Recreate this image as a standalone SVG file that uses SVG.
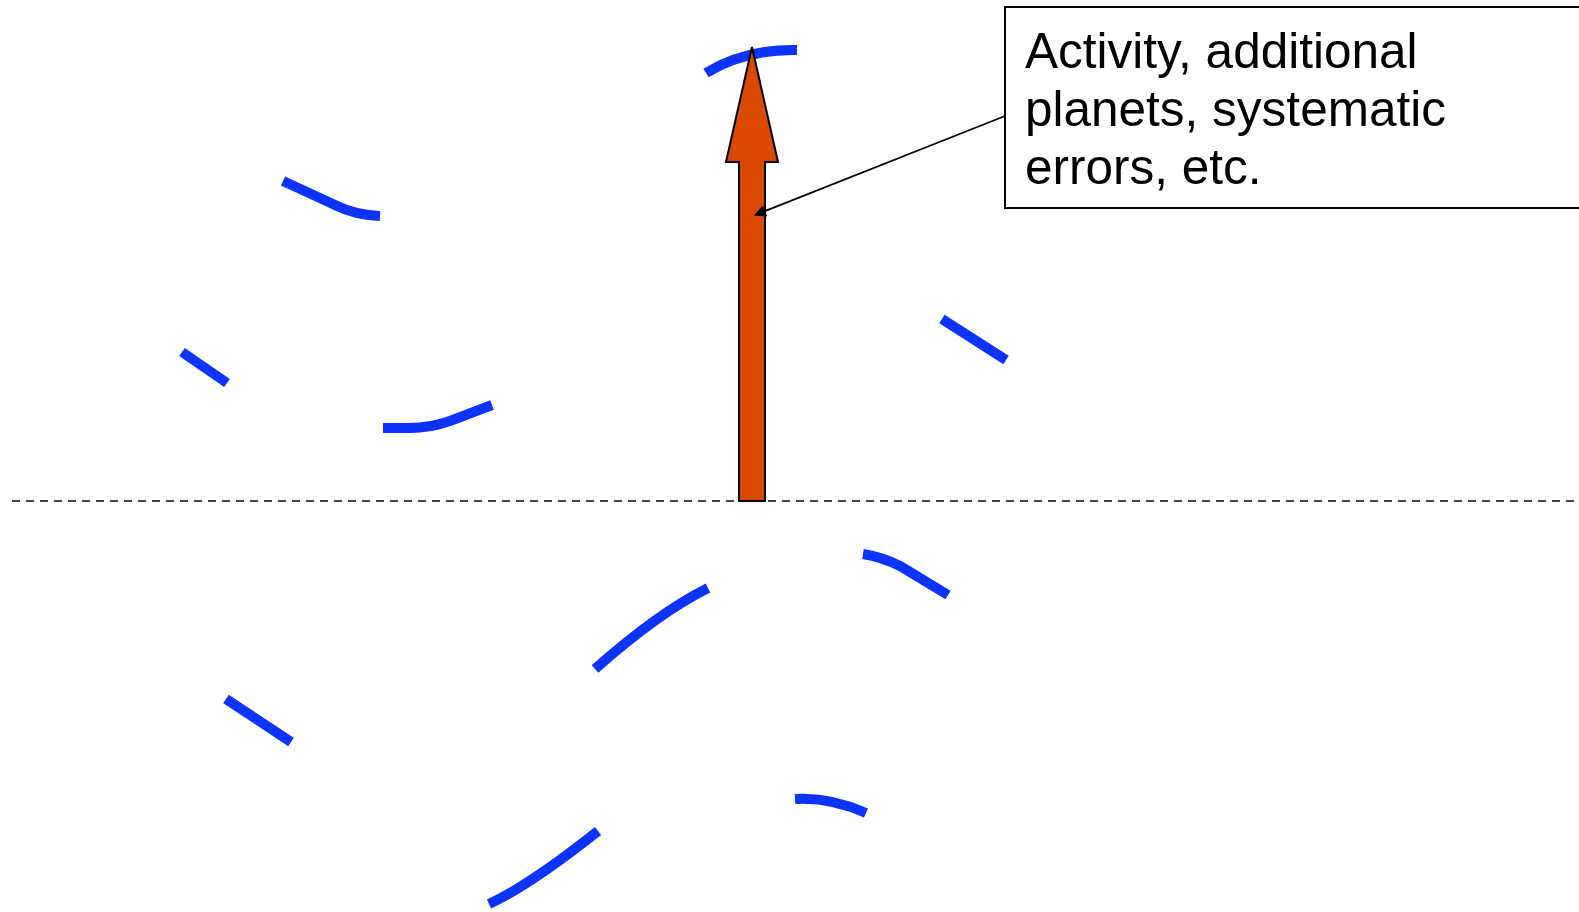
<svg xmlns="http://www.w3.org/2000/svg" width="1579" height="912" viewBox="0 0 1579 912">
<style>
.trace{fill:none;stroke:#0D33FF;stroke-width:10;stroke-linecap:butt}
.lbl{font-family:"Liberation Sans",Arial,sans-serif;font-size:49.5px;fill:#000}
</style>
<defs>
<marker id="ah" viewBox="0 0 10 10" refX="9" refY="5" markerWidth="16" markerHeight="12" markerUnits="userSpaceOnUse" orient="auto">
<path d="M0,0 L10,5 L0,10 z" fill="#000"/>
</marker>
</defs>
<rect width="1579" height="912" fill="#fff"/>
<g id="baseline">
<line x1="12" y1="501" x2="1579" y2="501" stroke="#000" stroke-width="1.5" stroke-dasharray="8 6"/>
</g>
<g id="traces">
<path class="trace" d="M283,181 L335,205 Q355,215 380,216"/>
<path class="trace" d="M182,352 L227,383"/>
<path class="trace" d="M383,428 L410,428 Q430,428 450,421 L492,405"/>
<path class="trace" d="M942,319 L1006,360"/>
<path class="trace" d="M706,73 Q745,49 797,50"/>
<path class="trace" d="M595,669 Q658,613 708,588"/>
<path class="trace" d="M863,554 Q882,557 900,566 L948,595"/>
<path class="trace" d="M226,699 L291,742"/>
<path class="trace" d="M489,904 Q530,885 598,831"/>
<path class="trace" d="M795,799 Q830,797 866,813"/>
</g>
<g id="big-arrow">
<path d="M752,47 L778,162 L765,162 L765,501 L739,501 L739,162 L726,162 Z" fill="#D94A00" stroke="#000" stroke-width="2" stroke-linejoin="miter"/>
</g>
<g id="callout">
<rect x="1005" y="7" width="590" height="201" fill="#fff" stroke="#000" stroke-width="2"/>
<text class="lbl" x="1025" y="68">Activity, additional</text>
<text class="lbl" x="1025" y="126">planets, systematic</text>
<text class="lbl" x="1025" y="184">errors, etc.</text>
</g>
<g id="connectors">
<line x1="1005" y1="116" x2="755" y2="215" stroke="#000" stroke-width="1.8" marker-end="url(#ah)"/>
</g>
</svg>
